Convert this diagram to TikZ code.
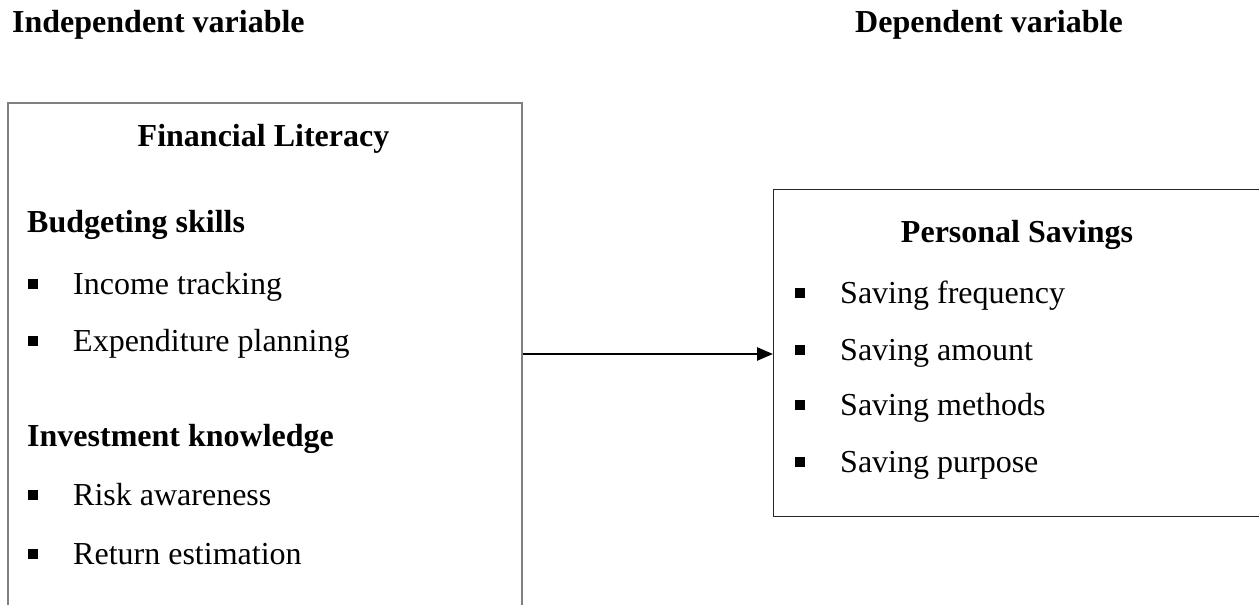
\documentclass[tikz,border=0pt]{standalone}
\usepackage{fontspec}
\setmainfont{Liberation Serif}
\usetikzlibrary{arrows.meta}
\begin{document}
\begin{tikzpicture}[x=1pt,y=-1pt,
  txt/.style={anchor=base west,inner sep=0pt,font=\fontsize{32}{38}\selectfont},
  hd/.style={anchor=base west,inner sep=0pt,font=\fontsize{32}{38}\selectfont\bfseries},
  bul/.style={fill=black,draw=none,minimum size=10pt,inner sep=0pt},
  lboxstyle/.style={draw={rgb,255:red,128;green,128;blue,128},line width=2pt,inner sep=0pt,anchor=north west},
  rboxstyle/.style={draw=black!85,line width=1.3pt,inner sep=0pt,anchor=north west},
  conn/.style={-{Triangle[length=16pt,width=13pt]},line width=2.5pt}]
\useasboundingbox (0,0) rectangle (1259,605);
\clip (0,0) rectangle (1259,605);
% boxes
\node[lboxstyle,minimum width=513.5pt,minimum height=540pt] (lbox) at (7,102) {};
\node[rboxstyle,minimum width=489pt,minimum height=327pt] (rbox) at (773,189) {};
% headings
\node[hd] (iv) at (12,32) {Independent variable};
\node[hd] (dv) at (855,32) {Dependent variable};
% left box content
\node[hd,anchor=base] (fl) at (263.5,146) {Financial Literacy};
\node[hd] (bs) at (27,232) {Budgeting skills};
\node[bul] (lb1) at (33,284) {};
\node[txt] (lt1) at (73,294) {Income tracking};
\node[bul] (lb2) at (33,341) {};
\node[txt] (lt2) at (73,351) {Expenditure planning};
\node[hd] (ik) at (27,446) {Investment knowledge};
\node[bul] (lb3) at (33,495) {};
\node[txt] (lt3) at (73,505) {Risk awareness};
\node[bul] (lb4) at (33,554) {};
\node[txt] (lt4) at (73,564) {Return estimation};
% right box content
\node[hd,anchor=base] (ps) at (1017,242) {Personal Savings};
\node[bul] (rb1) at (800,293) {};
\node[txt] (rt1) at (840,303) {Saving frequency};
\node[bul] (rb2) at (800,350) {};
\node[txt] (rt2) at (840,360) {Saving amount};
\node[bul] (rb3) at (800,405) {};
\node[txt] (rt3) at (840,415) {Saving methods};
\node[bul] (rb4) at (800,462) {};
\node[txt] (rt4) at (840,472) {Saving purpose};
% connector
\coordinate (ay) at (0,354);
\draw[conn] (lbox.east |- ay) -- (rbox.west |- ay);
\end{tikzpicture}
\end{document}
